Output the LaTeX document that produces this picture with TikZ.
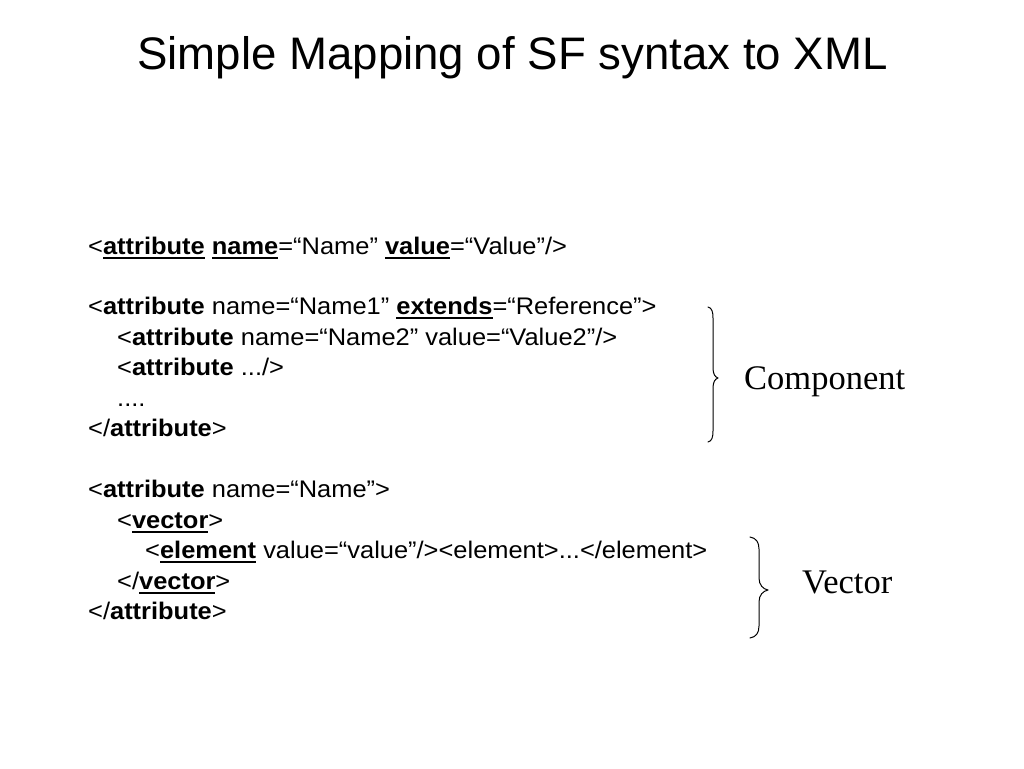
\documentclass[tikz,border=0pt]{standalone}
\usepackage{fontspec}
\setmainfont{Liberation Sans}
\newfontfamily\codefont[FakeStretch=1.06]{Liberation Sans}
\newfontfamily\labelfont{Liberation Serif}
\newcommand\ulx[1]{\setbox0\hbox{#1}\rlap{\rule[-4.5pt]{\wd0}{1.6pt}}\box0\relax}
\tikzset{
  code/.style={anchor=base west, inner sep=0pt, font=\codefont\fontsize{24}{28}\selectfont},
  lbl/.style={anchor=base west, inner sep=0pt, font=\labelfont\fontsize{34.5}{38}\selectfont},
  title/.style={anchor=base, inner sep=0pt, font=\fontsize{45.6}{50}\selectfont},
  bracepath/.style={line width=1pt, line cap=round, line join=round}
}
\begin{document}
\begin{tikzpicture}[x=1pt,y=-1pt]
\useasboundingbox (0,0) rectangle (1024,768);
\node[title] (t) at (512.5,69) {Simple Mapping of SF syntax to XML};
% block 1
\node[code] (l1) at (88,254) {<\ulx{\textbf{attribute}} \ulx{\textbf{name}}=“Name” \ulx{\textbf{value}}=“Value”/>};
% block 2
\node[code] (l2) at (88,314.5) {<\textbf{attribute} name=“Name1” \ulx{\textbf{extends}}=“Reference”>};
\node[code] (l3) at (117,345) {<\textbf{attribute} name=“Name2” value=“Value2”/>};
\node[code] (l4) at (117,375.5) {<\textbf{attribute} .../>};
\node[code] (l5) at (117,406) {....};
\node[code] (l6) at (88,436.5) {</\textbf{attribute}>};
% block 3
\node[code] (l7) at (88,497.5) {<\textbf{attribute} name=“Name”>};
\node[code] (l8) at (117,528) {<\ulx{\textbf{vector}}>};
\node[code] (l9) at (145,558.5) {<\ulx{\textbf{element}} value=“value”/><element>...</element>};
\node[code] (l10) at (117,589) {</\ulx{\textbf{vector}}>};
\node[code] (l11) at (88,619.5) {</\textbf{attribute}>};
% braces
\draw[bracepath] (708,307) .. controls (712,308) and (713,312) .. (713,318)
  -- (713,368) .. controls (713,374) and (715,377) .. (718,378)
  .. controls (715,379) and (713,382) .. (713,388)
  -- (713,431) .. controls (713,437) and (712,441) .. (708,442);
\node[lbl] (comp) at (744,389) {Component};
\draw[bracepath] (750,537) .. controls (756,538) and (759,542) .. (759,549)
  -- (759,578) .. controls (759,585) and (763,589) .. (768,590)
  .. controls (763,591) and (759,595) .. (759,602)
  -- (759,626) .. controls (759,633) and (756,637) .. (750,638);
\node[lbl] (vec) at (802,593) {Vector};
\end{tikzpicture}
\end{document}
